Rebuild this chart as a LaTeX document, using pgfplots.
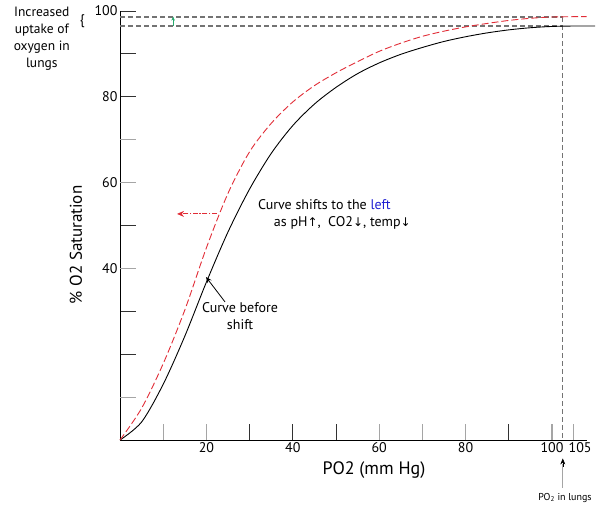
\documentclass[border=0pt]{standalone}
\usepackage{pgfplots}
\pgfplotsset{compat=1.18}
\usepackage{fontspec}
\setmainfont{PT Sans}
\newfontfamily\sym{DejaVu Sans}
\usetikzlibrary{arrows.meta}
\definecolor{curvered}{RGB}{225,45,55}
\definecolor{tickgray}{RGB}{165,165,165}
\definecolor{tickdark}{RGB}{50,50,50}
\definecolor{dashgray}{RGB}{115,115,115}
\definecolor{leftblue}{RGB}{30,30,210}
\definecolor{arrowgreen}{RGB}{40,170,110}

\begin{document}
\begin{tikzpicture}[x=1pt,y=1pt]
\useasboundingbox (0,0) rectangle (601,507);
\begin{axis}[
  at={(120pt,67pt)}, anchor=south west,
  scale only axis, x=4.32pt, y=4.29pt,
  xmin=0, xmax=108, ymin=0, ymax=100,
  clip=false,
  axis lines*=left,
  axis line style={black, line width=0.8pt},
  tick align=inside,
  major tick length=16pt,
  major tick style={tickdark, line width=1pt},
  /pgf/number format/assume math mode=true,
  tick label style={font=\fontsize{14}{14}\selectfont},
  xtick={30,40,50,90}, xticklabels={,40,,},
  extra x ticks={10,20,60,70,80,100,105},
  extra x tick labels={,20,60,,80,100,\hspace*{13pt}105},
  extra x tick style={major tick style={tickgray, line width=1.2pt}},
  ytick={20,30,50,80,90,100}, yticklabels={,,,80,,100},
  extra y ticks={10,40,60,70},
  extra y tick labels={,40,60,},
  extra y tick style={major tick style={tickgray, line width=1.2pt}},
  xticklabel style={yshift=1pt},
  yticklabel style={xshift=1pt},
]
% reference dashed lines
\addplot[dashgray, line width=1.1pt, dash pattern=on 5pt off 3pt] coordinates {(0,98.6) (102.5,98.6)};
\addplot[dashgray, line width=1.1pt, dash pattern=on 5pt off 3pt] coordinates {(0,96.5) (102.5,96.5)};
\addplot[dashgray, line width=1.1pt, dash pattern=on 5pt off 3pt] coordinates {(102.5,98.6) (102.5,0)};
% curve before shift
\addplot[black, line width=0.9pt, smooth] coordinates {
 (0,0) (5,4.2) (10,13) (15,24.2) (20,36.8) (25,48.5) (30,58.5) (35,66.8)
 (40,73.3) (45,78.3) (50,82.2) (55,85.4) (60,87.9) (65,89.9) (70,91.5)
 (75,92.9) (80,94.0) (85,94.9) (90,95.6) (95,96.1) (100,96.4) (105,96.5) (110,96.5)};
% shifted curve
\addplot[curvered, line width=0.9pt, dash pattern=on 7pt off 3pt, smooth] coordinates {
 (0,0) (5,7.4) (10,17.8) (15,30.3) (20,44.8) (25,57.5) (30,67.2) (35,73.8)
 (40,78.8) (45,82.6) (50,85.6) (55,88.2) (60,90.6) (65,92.5) (70,94.1)
 (75,95.3) (80,96.3) (85,97.1) (90,97.8) (95,98.3) (100,98.6) (108,98.7)};

% annotations
\draw[arrowgreen, line width=0.8pt, -{Stealth[length=4pt,width=3.5pt]}] (axis cs:12.3,96.5) -- (axis cs:12.3,98.7);
\draw[curvered, line width=0.9pt, dash pattern=on 5pt off 1.5pt on 1.5pt off 1.5pt, -{Stealth[length=7pt,width=6pt]}] (axis cs:22.4,52.7) -- (axis cs:13.2,52.7);
\node[anchor=west, font=\fontsize{14}{14}\selectfont, inner sep=0pt] at (axis cs:31.9,54.8) {Curve shifts to the \textcolor{leftblue}{left}};
\node[anchor=west, font=\fontsize{14}{14}\selectfont, inner sep=0pt] at (axis cs:35.6,50.6) {as pH{\sym\fontsize{12}{12}\selectfont ↑},\ \ CO2{\sym\fontsize{12}{12}\selectfont ↓}, temp{\sym\fontsize{12}{12}\selectfont ↓}};
\node[align=center, font=\fontsize{14}{17}\selectfont, inner sep=0pt] at (axis cs:27.8,28.8) {Curve before\\shift};
\draw[black, line width=0.8pt, -{Stealth[length=6pt,width=5pt]}] (axis cs:24.3,32.2) -- (axis cs:19.9,38.0);

\node[align=center, font=\fontsize{13.5}{17}\selectfont, inner sep=0pt] at (axis cs:-18.1,93.6) {Increased\\uptake of\\oxygen in\\lungs};
\node[font=\fontsize{14}{14}\selectfont, inner sep=0pt] at (axis cs:-8.7,97.6) {\{};

\node[rotate=90, font=\fontsize{17}{17}\selectfont, inner sep=0pt] at (axis cs:-10.2,45.5) {\% O2 Saturation};
\node[font=\fontsize{18}{18}\selectfont, inner sep=0pt] at (axis cs:58.8,-7.0) {PO2 (mm Hg)};

\draw[tickgray, line width=1.3pt] (axis cs:102.5,-11.1) -- (axis cs:102.5,-5.6);
\draw[black, line width=0.6pt, -{Stealth[length=6pt,width=5pt]}] (axis cs:102.5,-6.2) -- (axis cs:102.5,-4.3);
\node[font=\fontsize{10}{10}\selectfont, inner sep=0pt] at (axis cs:103.0,-13.5) {PO\textsubscript{2} in lungs};
\end{axis}
\end{tikzpicture}
\end{document}
